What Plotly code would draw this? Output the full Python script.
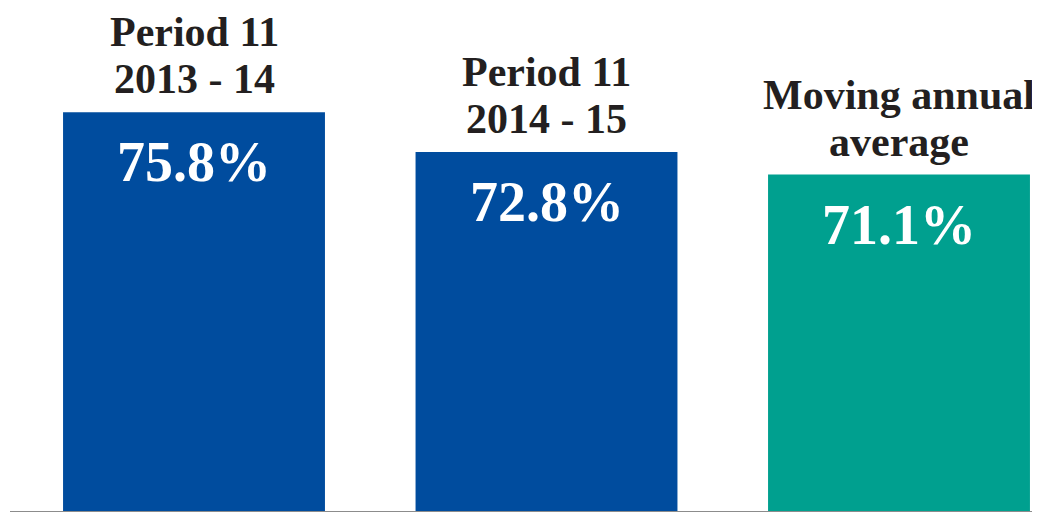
import plotly.graph_objects as go

categories = ["Period 11<br>2013 - 14", "Period 11<br>2014 - 15", "Moving annual<br>average"]
values = [75.8, 72.8, 71.1]
colors = ["#004C9E", "#004C9E", "#00A08F"]

FONT = "Palatino Linotype, Book Antiqua, Palatino, Liberation Serif, serif"

fig = go.Figure()
fig.add_trace(go.Bar(
    x=categories, y=values, marker=dict(color=colors, line=dict(width=0)),
    width=0.743, hoverinfo="skip",
))

for c, v in zip(categories, values):
    fig.add_annotation(x=c, y=v, text=f"<b>{v:.1f}%</b>", showarrow=False,
                       yanchor="middle", yshift=-50,
                       font=dict(family=FONT, size=56, color="white"))
    lines = c.split("<br>")
    for i, line in enumerate(lines):
        shift = 33 + 47 * (len(lines) - 1 - i)
        fig.add_annotation(x=c, y=v, text=f"<b>{line}</b>", showarrow=False,
                           yanchor="middle", yshift=shift,
                           font=dict(family=FONT, size=42, color="#231F20"))

fig.update_layout(
    width=1032, height=504,
    margin=dict(l=2, r=0, t=0, b=1),
    plot_bgcolor="white", paper_bgcolor="white",
    showlegend=False,
    xaxis=dict(range=[-0.522, 2.400], showticklabels=False, showgrid=False,
               zeroline=False, showline=True, linecolor="#8C8C8C", linewidth=2),
    yaxis=dict(range=[45.75, 83.65], showticklabels=False, showgrid=False,
               zeroline=False, showline=False),
)

fig.write_html("out.html")
